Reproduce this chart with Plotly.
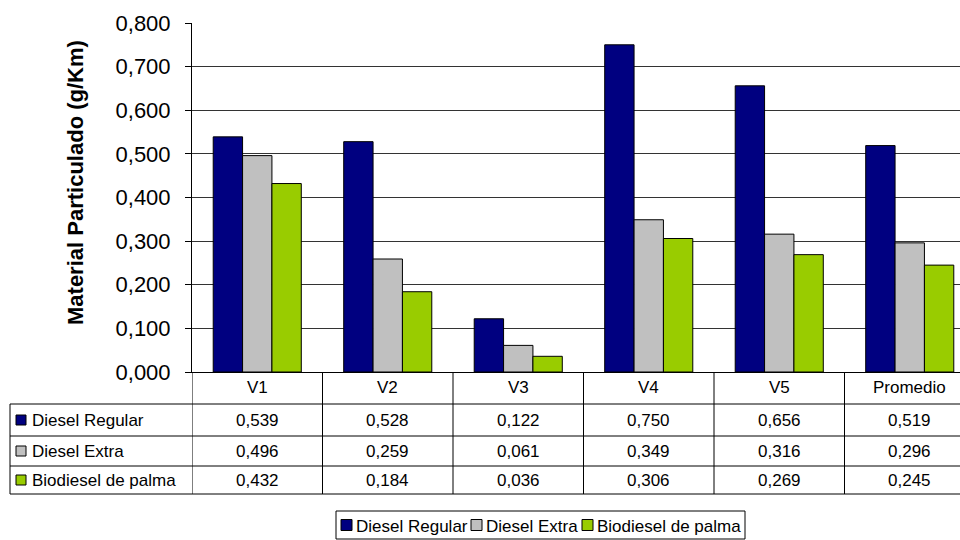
import plotly.graph_objects as go

# Vehicles tested and particulate matter emissions (g/Km) per fuel
categories = ["V1", "V2", "V3", "V4", "V5", "Promedio"]
diesel_regular = [0.539, 0.528, 0.122, 0.750, 0.656, 0.519]
diesel_extra = [0.496, 0.259, 0.061, 0.349, 0.316, 0.296]
biodiesel_palma = [0.432, 0.184, 0.036, 0.306, 0.269, 0.245]

series_names = ["Diesel Regular", "Diesel Extra", "Biodiesel de palma"]
series_values = [diesel_regular, diesel_extra, biodiesel_palma]
series_colors = ["#000080", "#C0C0C0", "#99CC00"]

y_ticks = [0.0, 0.1, 0.2, 0.3, 0.4, 0.5, 0.6, 0.7, 0.8]

FONT = "Liberation Sans, Arial, sans-serif"
W, H = 960, 540
M_L, M_R, M_T, M_B = 192, 0, 23, 168
PLOT_W = W - M_L - M_R
PLOT_H = H - M_T - M_B
BLACK = "#000000"


def px_x(px):
    """Horizontal pixel position -> paper coordinate."""
    return (px - M_L) / PLOT_W


def px_y(px):
    """Vertical pixel position -> paper coordinate."""
    return (H - M_B - px) / PLOT_H


fig = go.Figure()
for name, vals, col in zip(series_names, series_values, series_colors):
    fig.add_trace(go.Bar(
        x=list(range(len(categories))), y=vals, name=name,
        marker=dict(color=col, line=dict(color=BLACK, width=1)),
        showlegend=False,
    ))

shapes = []
annotations = []

# Data table grid under the plot
row_lines = [404, 436, 466, 494]
left_px = 10
for yl in row_lines:
    shapes.append(dict(type="line", xref="paper", yref="paper",
                       x0=px_x(left_px), x1=1.05, y0=px_y(yl), y1=px_y(yl),
                       line=dict(color=BLACK, width=1)))
# column boundaries between categories
for i in range(len(categories) + 1):
    xb = i - 0.5
    shapes.append(dict(type="line", xref="x", yref="paper",
                       x0=xb, x1=xb, y0=0, y1=px_y(row_lines[-1]),
                       line=dict(color=BLACK, width=1)))
# left edge of the series-name column
shapes.append(dict(type="line", xref="paper", yref="paper",
                   x0=px_x(left_px), x1=px_x(left_px),
                   y0=px_y(row_lines[0]), y1=px_y(row_lines[-1]),
                   line=dict(color=BLACK, width=1)))

TABLE_FONT = dict(family=FONT, size=17, color=BLACK)

# header row: category names
header_center = (372 + row_lines[0]) / 2
for i, cat in enumerate(categories):
    annotations.append(dict(x=i, y=px_y(header_center), xref="x", yref="paper",
                            text=cat, showarrow=False, font=TABLE_FONT,
                            xanchor="center", yanchor="middle"))

# value rows
for r, (name, vals, col) in enumerate(zip(series_names, series_values, series_colors)):
    top, bot = row_lines[r], row_lines[r + 1]
    cy = (top + bot) / 2
    # colour key
    shapes.append(dict(type="rect", xref="paper", yref="paper",
                       x0=px_x(16), x1=px_x(26), y0=px_y(cy + 5), y1=px_y(cy - 5),
                       fillcolor=col, line=dict(color=BLACK, width=1)))
    annotations.append(dict(x=px_x(30), y=px_y(cy), xref="paper", yref="paper",
                            text=name, showarrow=False, font=TABLE_FONT,
                            xanchor="left", yanchor="middle"))
    for i, v in enumerate(vals):
        annotations.append(dict(x=i, y=px_y(cy), xref="x", yref="paper",
                                text=f"{v:.3f}".replace(".", ","), showarrow=False,
                                font=TABLE_FONT, xanchor="center", yanchor="middle"))

# legend box below the table
leg_top, leg_bot = 511, 539
leg_left, leg_right = 336, 745
leg_cy = (leg_top + leg_bot) / 2
shapes.append(dict(type="rect", xref="paper", yref="paper",
                   x0=px_x(leg_left), x1=px_x(leg_right),
                   y0=px_y(leg_bot), y1=px_y(leg_top),
                   line=dict(color=BLACK, width=1), fillcolor="rgba(0,0,0,0)"))
legend_key_x = [341, 471, 582]
for kx, name, col in zip(legend_key_x, series_names, series_colors):
    shapes.append(dict(type="rect", xref="paper", yref="paper",
                       x0=px_x(kx), x1=px_x(kx + 11),
                       y0=px_y(leg_cy + 5.5), y1=px_y(leg_cy - 5.5),
                       fillcolor=col, line=dict(color=BLACK, width=1)))
    annotations.append(dict(x=px_x(kx + 13), y=px_y(leg_cy + 1), xref="paper", yref="paper",
                            text=name, showarrow=False,
                            font=dict(family=FONT, size=17, color=BLACK),
                            xanchor="left", yanchor="middle"))

# vertical axis title
annotations.append(dict(x=px_x(75), y=px_y(183), xref="paper", yref="paper",
                        text="<b>Material Particulado (g/Km)</b>", showarrow=False,
                        textangle=-90,
                        font=dict(family=FONT, size=22, color=BLACK),
                        xanchor="center", yanchor="middle"))

fig.update_layout(
    width=W, height=H,
    margin=dict(l=M_L, r=M_R, t=M_T, b=M_B),
    paper_bgcolor="#FFFFFF", plot_bgcolor="#FFFFFF",
    separators=",.",
    barmode="group", bargap=0.325, bargroupgap=0,
    showlegend=False,
    shapes=shapes,
    annotations=annotations,
    xaxis=dict(range=[-0.5, -0.5 + PLOT_W / 130.5], showticklabels=False,
               showgrid=False, zeroline=False,
               showline=True, linecolor=BLACK, linewidth=1),
    yaxis=dict(range=[0, 0.8], tickvals=y_ticks, tickformat=".3f",
               showgrid=True, gridcolor="#333333", gridwidth=1,
               zeroline=False, showline=True, linecolor=BLACK, linewidth=1,
               ticks="outside", ticklen=6, tickcolor=BLACK,
               ticklabelstandoff=10,
               tickfont=dict(family=FONT, size=22, color=BLACK)),
)

fig.write_html("out.html")
